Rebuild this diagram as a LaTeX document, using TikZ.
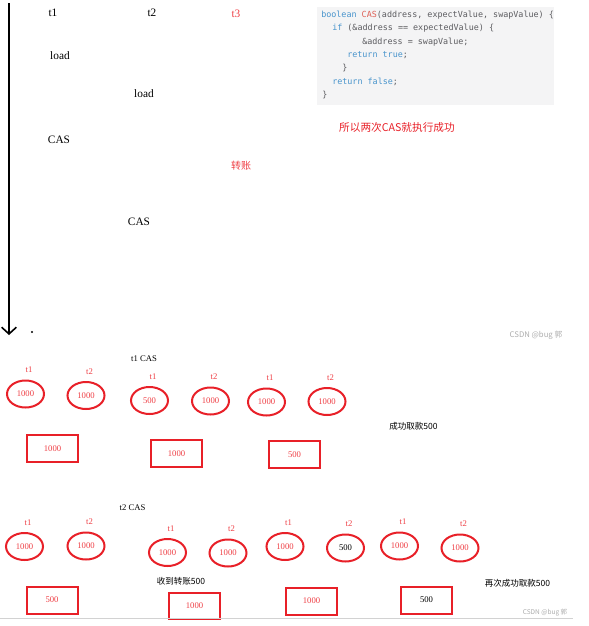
\documentclass[tikz,border=0pt]{standalone}
\usepackage{fontspec}
\usepackage{xcolor}
\usepackage{tikz}
\usetikzlibrary{arrows.meta,shapes.geometric}
\setmainfont{Liberation Serif}
\newfontfamily\cjk{Noto Sans CJK SC}
\newfontfamily\codefont{DejaVu Sans Mono}
\definecolor{markred}{RGB}{232,32,40}
\definecolor{softred}{RGB}{238,62,68}
\definecolor{kwblue}{RGB}{72,148,204}
\definecolor{fnred}{RGB}{222,98,88}
\definecolor{codegray}{RGB}{92,92,96}
\definecolor{codebg}{RGB}{244,244,245}
\definecolor{wmgray}{RGB}{172,172,172}
\tikzset{
  seq/.style={inner sep=0pt,font=\fontsize{8.5}{10}\selectfont},
  codeline/.style={anchor=west,inner sep=0pt,text=codegray,font=\codefont\fontsize{6.3}{7.5}\selectfont},
  tag/.style={inner sep=0pt,text=softred,font=\fontsize{6.5}{7.5}\selectfont},
  cell/.style={ellipse,draw=markred,line width=1.5pt,minimum width=27.75pt,minimum height=20.25pt,inner sep=0pt,font=\fontsize{6.5}{7.5}\selectfont},
  slot/.style={rectangle,draw=markred,line width=1.5pt,minimum width=38.25pt,minimum height=20.25pt,inner sep=0pt,font=\fontsize{6.5}{7.5}\selectfont},
  note/.style={inner sep=0pt,font=\cjk\fontsize{6.4}{7.5}\selectfont},
  watermark/.style={inner sep=0pt,text=wmgray,font=\cjk\fontsize{5.8}{7}\selectfont},
}
\begin{document}
\begin{tikzpicture}[x=0.75pt,y=-0.75pt]
  \useasboundingbox (0,0) rectangle (589,626);
  \coordinate (time-top) at (9,3);
  \coordinate (time-end) at (9,335);
  \draw[line width=1.5pt,-{Straight Barb[length=5pt,width=11pt,line width=1.2pt]}] (time-top) -- (time-end);
  \node[circle,fill,inner sep=0pt,minimum size=1.8pt] (dot) at (32,332) {};
  \node[seq] (t1) at (53,13) {t1};
  \node[seq] (t2) at (152,13) {t2};
  \node[seq,text=softred] (t3) at (236,14) {t3};
  \node[seq] (load1) at (60,56) {load};
  \node[seq] (load2) at (144,94) {load};
  \node[seq] (cas1) at (59,140) {CAS};
  \node[seq,text=softred,font=\cjk\fontsize{7.5}{9}\selectfont] (transfer) at (241,166) {转账};
  \node[seq] (cas2) at (139,222) {CAS};
  \fill[codebg] (317,7) rectangle (554,105);
  \node[codeline] (code1) at (321,15) {\textcolor{kwblue}{boolean} \textcolor{fnred}{CAS}(address, expectValue, swapValue) \{};
  \node[codeline] (code2) at (332,28) {\textcolor{kwblue}{if} (\&address == expectedValue) \{};
  \node[codeline] (code3) at (362,42) {\&address = swapValue;};
  \node[codeline] (code4) at (347,55) {\textcolor{kwblue}{return true};};
  \node[codeline] (code5) at (342,68) {\}};
  \node[codeline] (code6) at (332,82) {\textcolor{kwblue}{return false};};
  \node[codeline] (code7) at (322,95) {\}};
  \node[inner sep=0pt,text=markred,font=\cjk\fontsize{8}{9}\selectfont] (verdict) at (397,127) {所以两次CAS就执行成功};
  \node[watermark] (mark1) at (536,335) {CSDN @bug 郭};
  \node[seq,font=\fontsize{6.5}{7.5}\selectfont] (round1) at (144,359) {t1 CAS};
  \node[seq,font=\fontsize{6.5}{7.5}\selectfont] (round2) at (132.5,508) {t2 CAS};
  \foreach \id/\cx/\cy/\val/\who/\ink in {a1/25.5/394/1000/t1/softred,a2/86/395.5/1000/t2/softred,
      a3/149.5/400.5/500/t1/softred,a4/210.5/401/1000/t2/softred,a5/266.5/402/1000/t1/softred,
      a6/327/401.5/1000/t2/softred,b1/24.5/546.5/1000/t1/softred,b2/86/546/1000/t2/softred,
      b3/167.5/552.5/1000/t1/softred,b4/228/553/1000/t2/softred,b5/285/546.5/1000/t1/softred,
      b6/345.5/548/500/t2/black,b7/399.5/546/1000/t1/softred,b8/460/548/1000/t2/softred}{
    \node[cell,text=\ink] (\id) at (\cx,\cy) {\val};
    \node[tag] (\id-tag) at (\cx+3.5,\cy-24) {\who};
  }
  \foreach \id/\cx/\cy/\val/\ink in {r1/52.5/448.5/1000/softred,r2/176.5/453.5/1000/softred,
      r3/294.5/454.5/500/softred,s1/52/600/500/softred,s2/194.5/606/1000/softred,
      s3/311.5/601/1000/softred,s4/426.5/600/500/black}
    \node[slot,text=\ink] (\id) at (\cx,\cy) {\val};
  \node[note] (withdraw1) at (413.5,426) {成功取款500};
  \node[note] (received) at (181,581) {收到转账500};
  \node[note] (withdraw2) at (517.5,583) {再次成功取款500};
  \fill[white] (0,619.5) rectangle (589,626);
  \coordinate (rule-l) at (0,618.5);
  \coordinate (rule-r) at (573,618.5);
  \draw[gray!35,line width=0.9pt] (rule-l) -- (rule-r);
  \node[watermark,font=\cjk\fontsize{4.9}{6}\selectfont] (mark2) at (545,613) {CSDN @bug 郭};
\end{tikzpicture}
\end{document}
